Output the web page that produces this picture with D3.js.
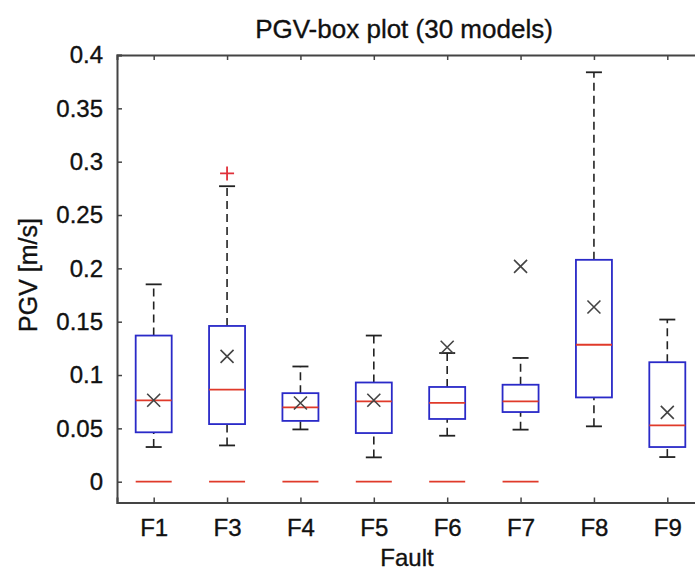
<!DOCTYPE html>
<html>
<head>
<meta charset="utf-8">
<script src="https://cdn.jsdelivr.net/npm/d3@7"></script>
<style>
  body { margin: 0; background: #fff; }
  svg text { font-family: "Liberation Sans", Arial, sans-serif; fill: #111; stroke: #111; stroke-width: 0.35px; }
</style>
</head>
<body>
<div class="container"></div>
<script>
var faults = ["F1", "F3", "F4", "F5", "F6", "F7", "F8", "F9"];
var lowerWhisker = [0.0325, 0.034, 0.049, 0.0228, 0.0431, 0.0488, 0.0519, 0.0231];
var q1 = [0.0463, 0.054, 0.057, 0.0456, 0.0588, 0.0653, 0.079, 0.0325];
var median = [0.0763, 0.0863, 0.0697, 0.0753, 0.0738, 0.0753, 0.1284, 0.0528];
var q3 = [0.137, 0.146, 0.083, 0.093, 0.0888, 0.0909, 0.208, 0.112];
var upperWhisker = [0.185, 0.277, 0.108, 0.137, 0.1206, 0.116, 0.3838, 0.152];
var means = [0.0763, 0.1175, 0.0738, 0.0763, 0.126, 0.2019, 0.1638, 0.065];
var outliers = [[], [0.289], [], [], [], [], [], []];
var zeroLine = [0, 0, 0, 0, 0, 0, null, null];
var yTicks = [0, 0.05, 0.1, 0.15, 0.2, 0.25, 0.3, 0.35, 0.4];

var W = 695, H = 572;
var margin = {top: 55, left: 117, bottom: 70, right: -9};

var svg = d3.select(".container")
  .append("svg")
  .attr("width", W)
  .attr("height", H);

var x = d3.scaleLinear()
  .domain([0.5, faults.length + 0.5])
  .range([margin.left, W - margin.right]);

var y = d3.scaleLinear()
  .domain([-0.0195, 0.4])
  .range([H - margin.bottom + 0.5, margin.top]);

var boxW = 36, capW = 16;
var data = faults.map(function(f, i) {
  return {name: f, pos: i + 1, lo: lowerWhisker[i], q1: q1[i], med: median[i],
          q3: q3[i], hi: upperWhisker[i], mean: means[i], out: outliers[i], zero: zeroLine[i]};
});

var g = svg.append("g");

// whiskers
g.selectAll(".wh-up").data(data).enter().append("line")
  .attr("x1", d => x(d.pos)).attr("x2", d => x(d.pos))
  .attr("y1", d => y(d.q3)).attr("y2", d => y(d.hi))
  .attr("stroke", "#222").attr("stroke-width", 1.6)
  .attr("stroke-dasharray", "8,5");
g.selectAll(".wh-lo").data(data).enter().append("line")
  .attr("x1", d => x(d.pos)).attr("x2", d => x(d.pos))
  .attr("y1", d => y(d.lo)).attr("y2", d => y(d.q1))
  .attr("stroke", "#222").attr("stroke-width", 1.6)
  .attr("stroke-dasharray", "8,5");

// caps
["hi", "lo"].forEach(function(k) {
  g.selectAll(".cap-" + k).data(data).enter().append("line")
    .attr("x1", d => x(d.pos) - capW / 2).attr("x2", d => x(d.pos) + capW / 2)
    .attr("y1", d => y(d[k])).attr("y2", d => y(d[k]))
    .attr("stroke", "#222").attr("stroke-width", 1.8);
});

// boxes
g.selectAll(".box").data(data).enter().append("rect")
  .attr("x", d => x(d.pos) - boxW / 2)
  .attr("width", boxW)
  .attr("y", d => y(d.q3))
  .attr("height", d => y(d.q1) - y(d.q3))
  .attr("fill", "none")
  .attr("stroke", "#2a2ac8")
  .attr("stroke-width", 1.8);

// medians
g.selectAll(".med").data(data).enter().append("line")
  .attr("x1", d => x(d.pos) - boxW / 2).attr("x2", d => x(d.pos) + boxW / 2)
  .attr("y1", d => y(d.med)).attr("y2", d => y(d.med))
  .attr("stroke", "#e03a2a").attr("stroke-width", 1.8);

// red lines at zero
g.selectAll(".zero").data(data.filter(d => d.zero !== null)).enter().append("line")
  .attr("x1", d => x(d.pos) - boxW / 2).attr("x2", d => x(d.pos) + boxW / 2)
  .attr("y1", d => y(d.zero)).attr("y2", d => y(d.zero))
  .attr("stroke", "#e03a2a").attr("stroke-width", 1.8);

// outliers (+)
data.forEach(function(d) {
  d.out.forEach(function(v) {
    var cx = x(d.pos), cy = y(v), s = 7;
    g.append("path")
      .attr("d", "M" + (cx - s) + "," + cy + "H" + (cx + s) + "M" + cx + "," + (cy - s) + "V" + (cy + s))
      .attr("stroke", "#e0303a").attr("stroke-width", 1.8).attr("fill", "none");
  });
});

// means (x)
g.selectAll(".mean").data(data).enter().append("path")
  .attr("d", function(d) {
    var cx = x(d.pos), cy = y(d.mean), s = 6.5;
    return "M" + (cx - s) + "," + (cy - s) + "L" + (cx + s) + "," + (cy + s) +
           "M" + (cx - s) + "," + (cy + s) + "L" + (cx + s) + "," + (cy - s);
  })
  .attr("stroke", "#444").attr("stroke-width", 1.6).attr("fill", "none");

// axes
var axisColor = "#444";
var yAxis = svg.append("g")
  .attr("transform", "translate(" + margin.left + ",0)")
  .call(d3.axisLeft(y).tickValues(yTicks).tickSize(-5).tickPadding(14)
        .tickFormat(d => d === 0 ? "0" : String(+d.toFixed(2))));
var xAxis = svg.append("g")
  .attr("transform", "translate(0," + y.range()[0] + ")")
  .call(d3.axisBottom(x).tickValues(data.map(d => d.pos)).tickSize(-5).tickPadding(16)
        .tickFormat((d, i) => faults[i]));
var topAxis = svg.append("g")
  .attr("transform", "translate(0," + margin.top + ")")
  .call(d3.axisTop(x).tickValues(data.map(d => d.pos)).tickSize(-5).tickFormat(""));

[yAxis, xAxis, topAxis].forEach(function(a) {
  a.select(".domain").attr("stroke", axisColor).attr("stroke-width", 2);
  a.selectAll(".tick line").attr("stroke", axisColor).attr("stroke-width", 1.5);
  a.selectAll("text").style("font-size", "24px").attr("fill", "#111");
});

svg.append("text")
  .attr("x", 404).attr("y", 38)
  .attr("text-anchor", "middle")
  .style("font-size", "26px")
  .text("PGV-box plot (30 models)");

svg.append("text")
  .attr("x", 407).attr("y", 566)
  .attr("text-anchor", "middle")
  .style("font-size", "24px")
  .text("Fault");

svg.append("text")
  .attr("transform", "translate(37," + 275 + ") rotate(-90)")
  .attr("text-anchor", "middle")
  .style("font-size", "25px")
  .text("PGV [m/s]");
</script>
</body>
</html>
